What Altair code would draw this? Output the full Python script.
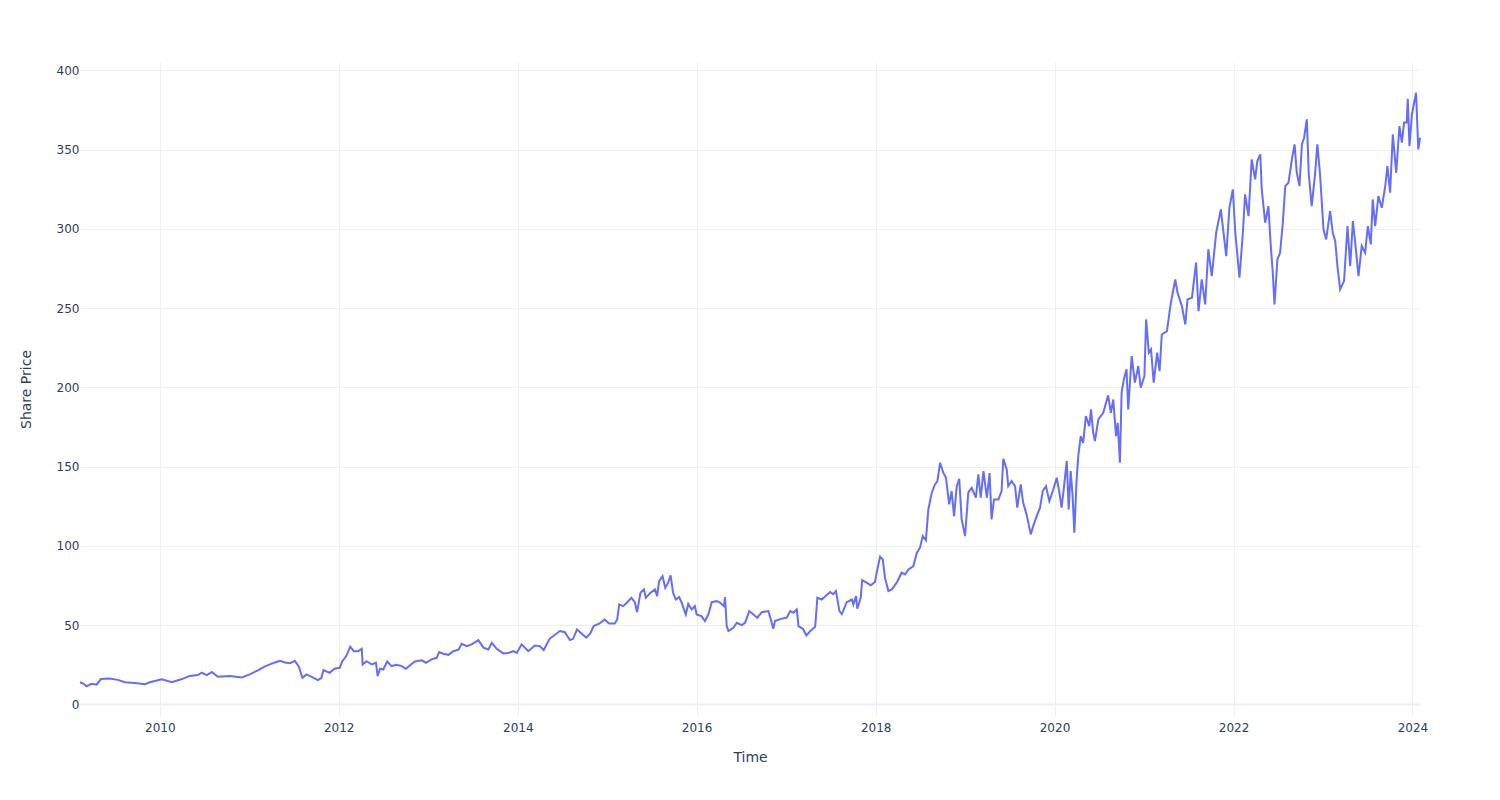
import altair as alt
import pandas as pd

dates = [
    "2009-02-09", "2009-02-24", "2009-03-08", "2009-03-28", "2009-04-18", "2009-05-05", "2009-06-10",
    "2009-07-13", "2009-08-11", "2009-09-21", "2009-11-01", "2009-11-21", "2010-01-09", "2010-02-19",
    "2010-04-01", "2010-05-03", "2010-06-05", "2010-06-21", "2010-07-12", "2010-08-01", "2010-08-26",
    "2010-10-14", "2010-12-02", "2011-01-03", "2011-02-05", "2011-03-06", "2011-04-16", "2011-05-06",
    "2011-05-27", "2011-06-17", "2011-07-06", "2011-07-22", "2011-08-06", "2011-08-23", "2011-09-11",
    "2011-10-08", "2011-10-22", "2011-10-31", "2011-11-25", "2011-12-15", "2012-01-05", "2012-01-16",
    "2012-02-01", "2012-02-17", "2012-03-03", "2012-03-21", "2012-04-04", "2012-04-08", "2012-04-24",
    "2012-05-15", "2012-06-01", "2012-06-08", "2012-06-18", "2012-07-01", "2012-07-17", "2012-08-04",
    "2012-08-25", "2012-09-14", "2012-10-02", "2012-10-21", "2012-11-07", "2012-12-05", "2012-12-22",
    "2013-01-14", "2013-02-04", "2013-02-14", "2013-03-03", "2013-03-24", "2013-04-13", "2013-05-04",
    "2013-05-17", "2013-06-07", "2013-06-27", "2013-07-24", "2013-08-14", "2013-09-03", "2013-09-17",
    "2013-10-07", "2013-11-03", "2013-11-24", "2013-12-14", "2013-12-28", "2014-01-17", "2014-02-13",
    "2014-03-12", "2014-04-01", "2014-04-17", "2014-05-11", "2014-06-22", "2014-07-12", "2014-08-02",
    "2014-08-15", "2014-08-31", "2014-09-18", "2014-10-08", "2014-10-24", "2014-11-07", "2014-12-01",
    "2014-12-21", "2015-01-09", "2015-02-01", "2015-02-11", "2015-02-19", "2015-03-07", "2015-03-24",
    "2015-04-10", "2015-04-24", "2015-05-03", "2015-05-17", "2015-05-31", "2015-06-08", "2015-06-27",
    "2015-07-15", "2015-07-24", "2015-08-01", "2015-08-15", "2015-08-26", "2015-09-07", "2015-09-17",
    "2015-09-27", "2015-10-08", "2015-10-22", "2015-11-01", "2015-11-18", "2015-11-28", "2015-12-12",
    "2015-12-25", "2016-01-01", "2016-01-21", "2016-02-04", "2016-02-18", "2016-03-03", "2016-03-23",
    "2016-04-06", "2016-04-22", "2016-04-26", "2016-05-03", "2016-05-10", "2016-05-30", "2016-06-13",
    "2016-07-03", "2016-07-17", "2016-08-03", "2016-08-20", "2016-09-05", "2016-09-23", "2016-10-20",
    "2016-10-30", "2016-11-09", "2016-11-16", "2016-12-13", "2017-01-03", "2017-01-17", "2017-01-30",
    "2017-02-13", "2017-02-20", "2017-03-10", "2017-03-24", "2017-04-09", "2017-04-29", "2017-05-08",
    "2017-05-26", "2017-06-13", "2017-06-29", "2017-07-12", "2017-07-23", "2017-08-06", "2017-08-16",
    "2017-09-05", "2017-09-26", "2017-10-02", "2017-10-13", "2017-10-18", "2017-11-01", "2017-11-07",
    "2017-11-25", "2017-12-12", "2017-12-29", "2018-01-05", "2018-01-19", "2018-01-30", "2018-02-08",
    "2018-02-22", "2018-03-08", "2018-03-28", "2018-04-17", "2018-05-01", "2018-05-15", "2018-06-04",
    "2018-06-18", "2018-07-01", "2018-07-12", "2018-07-25", "2018-08-04", "2018-08-18", "2018-08-31",
    "2018-09-10", "2018-09-21", "2018-10-04", "2018-10-15", "2018-10-28", "2018-11-07", "2018-11-17",
    "2018-11-28", "2018-12-08", "2018-12-18", "2019-01-01", "2019-01-14", "2019-01-28", "2019-02-14",
    "2019-02-24", "2019-03-06", "2019-03-17", "2019-03-31", "2019-04-11", "2019-04-19", "2019-04-29",
    "2019-05-17", "2019-05-30", "2019-06-06", "2019-06-20", "2019-06-26", "2019-07-10", "2019-07-24",
    "2019-08-02", "2019-08-16", "2019-08-26", "2019-09-09", "2019-09-26", "2019-10-06", "2019-10-23",
    "2019-11-03", "2019-11-14", "2019-11-27", "2019-12-11", "2019-12-27", "2020-01-10", "2020-01-20",
    "2020-01-30", "2020-02-09", "2020-02-20", "2020-02-28", "2020-03-07", "2020-03-15", "2020-03-22",
    "2020-03-31", "2020-04-07", "2020-04-17", "2020-04-27", "2020-05-08", "2020-05-22", "2020-05-29",
    "2020-06-07", "2020-06-14", "2020-06-28", "2020-07-18", "2020-08-07", "2020-08-18", "2020-08-28",
    "2020-09-08", "2020-09-15", "2020-09-24", "2020-10-01", "2020-10-10", "2020-10-21", "2020-10-28",
    "2020-11-11", "2020-11-24", "2020-12-08", "2020-12-18", "2021-01-02", "2021-01-09", "2021-01-20",
    "2021-01-29", "2021-02-09", "2021-02-23", "2021-03-05", "2021-03-14", "2021-04-04", "2021-04-20",
    "2021-05-08", "2021-05-17", "2021-06-04", "2021-06-18", "2021-06-27", "2021-07-15", "2021-08-01",
    "2021-08-11", "2021-08-24", "2021-09-07", "2021-09-20", "2021-10-04", "2021-10-22", "2021-11-10",
    "2021-11-21", "2021-12-02", "2021-12-15", "2021-12-29", "2022-01-08", "2022-01-25", "2022-02-08",
    "2022-02-17", "2022-03-03", "2022-03-16", "2022-03-30", "2022-04-08", "2022-04-20", "2022-04-26",
    "2022-05-10", "2022-05-23", "2022-06-02", "2022-06-10", "2022-06-17", "2022-06-29", "2022-07-10",
    "2022-07-21", "2022-07-31", "2022-08-13", "2022-08-27", "2022-09-07", "2022-09-16", "2022-09-27",
    "2022-10-07", "2022-10-16", "2022-10-27", "2022-11-04", "2022-11-16", "2022-11-30", "2022-12-09",
    "2022-12-20", "2023-01-03", "2023-01-14", "2023-01-30", "2023-02-10", "2023-02-20", "2023-03-01",
    "2023-03-12", "2023-03-28", "2023-04-11", "2023-04-22", "2023-05-03", "2023-05-12", "2023-05-26",
    "2023-06-08", "2023-06-22", "2023-07-03", "2023-07-15", "2023-07-23", "2023-08-02", "2023-08-15",
    "2023-08-29", "2023-09-12", "2023-09-21", "2023-10-02", "2023-10-13", "2023-10-27", "2023-11-09",
    "2023-11-19", "2023-11-28", "2023-12-09", "2023-12-13", "2023-12-20", "2023-12-30", "2024-01-08",
    "2024-01-16", "2024-01-21", "2024-01-25", "2024-02-01",
]

prices = [
    14.0, 13.0, 11.5, 13.0, 12.5, 16.0, 16.3,
    15.5, 14.0, 13.5, 12.8, 14.0, 15.8, 14.0,
    16.0, 18.0, 18.5, 20.0, 18.5, 20.5, 17.5,
    18.0, 17.0, 19.0, 21.5, 24.0, 26.5, 27.5,
    26.5, 26.0, 27.5, 24.0, 16.8, 18.9, 17.5,
    15.3, 16.6, 21.6, 20.0, 22.5, 23.1, 27.3,
    30.5, 36.4, 33.6, 33.6, 35.1, 25.2, 27.3,
    25.2, 26.3, 17.9, 22.5, 22.0, 27.1, 24.2,
    25.0, 24.2, 22.5, 25.0, 27.1, 27.8, 26.3,
    28.4, 29.4, 33.0, 32.0, 31.3, 33.6, 34.5,
    38.3, 36.8, 37.9, 40.6, 35.8, 34.7, 38.9,
    35.1, 32.2, 32.5, 33.6, 32.5, 37.9, 33.6,
    37.2, 36.8, 34.3, 41.4, 46.3, 45.6, 40.6,
    41.4, 47.3, 44.8, 42.1, 44.8, 49.4, 51.1,
    53.6, 51.1, 51.1, 53.6, 63.1, 62.0, 64.5,
    67.3, 64.5, 58.2, 70.5, 72.6, 67.3, 70.5,
    72.6, 68.3, 77.8, 80.9, 73.6, 76.8, 81.4,
    70.5, 66.2, 67.7, 64.2, 56.8, 63.4, 59.9,
    62.0, 56.8, 55.7, 52.6, 56.8, 64.5, 65.2,
    64.2, 62.0, 67.7, 49.4, 46.3, 48.4, 51.5,
    50.0, 51.5, 58.9, 56.8, 54.7, 58.2, 58.9,
    53.6, 47.7, 52.6, 54.1, 54.7, 58.9, 57.8,
    59.9, 49.4, 47.7, 43.5, 46.3, 49.0, 67.3,
    66.2, 68.8, 70.9, 69.5, 71.5, 58.9, 57.0,
    64.5, 66.2, 63.1, 68.3, 60.4, 67.3, 78.4,
    76.8, 75.1, 77.2, 83.1, 93.2, 91.5, 79.9,
    71.5, 72.6, 76.8, 83.1, 82.0, 85.2, 87.3,
    95.7, 98.9, 106.2, 103.6, 123.0, 133.6, 138.8,
    140.9, 152.5, 146.2, 143.0, 126.2, 134.6, 118.8,
    137.7, 142.4, 116.7, 106.2, 133.6, 136.7, 130.4,
    145.1, 130.4, 147.2, 130.4, 146.0, 116.7, 129.3,
    129.3, 134.6, 155.0, 148.3, 137.7, 140.9, 137.7,
    124.1, 138.8, 127.3, 119.9, 107.3, 112.5, 119.9,
    124.1, 134.6, 137.7, 128.3, 135.6, 143.0, 134.6,
    124.1, 137.7, 153.5, 123.0, 147.2, 131.4, 108.3,
    140.9, 156.7, 169.3, 165.0, 181.9, 175.6, 186.1,
    171.4, 166.1, 179.8, 184.0, 195.0, 184.0, 192.4,
    169.3, 177.7, 152.5, 196.7, 205.0, 211.4, 186.1,
    219.7, 203.0, 213.4, 199.8, 207.1, 242.9, 221.9,
    224.0, 203.0, 221.9, 210.3, 233.4, 235.5, 253.4,
    268.1, 259.8, 251.3, 239.7, 255.5, 256.6, 278.7,
    248.1, 268.1, 252.4, 287.1, 270.2, 297.6, 312.3,
    297.6, 282.8, 313.3, 324.9, 297.6, 269.2, 297.6,
    321.8, 308.1, 343.8, 331.2, 342.8, 347.0, 324.9,
    303.9, 314.4, 289.2, 272.4, 252.4, 280.8, 285.0,
    303.9, 327.0, 329.1, 343.8, 353.3, 335.4, 327.0,
    353.3, 357.5, 369.1, 334.4, 314.4, 335.4, 353.3,
    334.4, 299.7, 293.4, 311.2, 297.6, 292.3, 276.5,
    261.8, 267.1, 301.8, 276.5, 304.9, 292.3, 270.2,
    289.2, 285.0, 301.8, 290.2, 318.6, 301.8, 320.7,
    313.3, 327.0, 339.6, 322.8, 359.6, 335.4, 364.9,
    354.4, 367.1, 367.1, 382.1, 352.2, 372.2, 379.6,
    385.9, 365.9, 350.2, 357.5,
]

tick_years = [2010, 2012, 2014, 2016, 2018, 2020, 2022, 2024]
y_ticks = [0, 50, 100, 150, 200, 250, 300, 350, 400]

df = pd.DataFrame({"date": dates, "price": prices})

x_enc = alt.X(
    "date:T",
    title="Time",
    scale=alt.Scale(domain=[alt.DateTime(year=2009, month=2, date=9),
                            alt.DateTime(year=2024, month=2, date=1)]),
    axis=alt.Axis(values=[alt.DateTime(year=y) for y in tick_years], format="%Y",
                  labelPadding=6, titlePadding=17),
)
y_enc = alt.Y(
    "price:Q",
    title="Share Price",
    scale=alt.Scale(domain=[-7.3, 405.3], nice=False, zero=False),
    axis=alt.Axis(values=y_ticks, labelPadding=1, titlePadding=23),
)

zero = alt.Chart(pd.DataFrame({"z": [0]})).mark_rule(color="#EBF0F8", strokeWidth=2).encode(
    y=alt.Y("z:Q")
)
line = alt.Chart(df).mark_line(color="#636efa", strokeWidth=2).encode(x=x_enc, y=y_enc)

chart = (
    alt.layer(zero, line)
    .properties(
        width=1340,
        height=654,
        padding={"left": 80, "top": 62, "right": 80, "bottom": 84},
        autosize=alt.AutoSizeParams(type="none"),
        background="white",
    )
    .configure_view(stroke=None)
    .configure_axis(
        labelFont="DejaVu Sans",
        labelFontSize=12,
        labelColor="#2a3f5f",
        titleFont="DejaVu Sans",
        titleFontSize=14,
        titleColor="#2a3f5f",
        titleFontWeight="normal",
        gridColor="#EBF0F8",
        gridWidth=1,
        domain=False,
        ticks=False,
    )
)

chart.save("out.html", embed_options={"renderer": "svg", "actions": False})
